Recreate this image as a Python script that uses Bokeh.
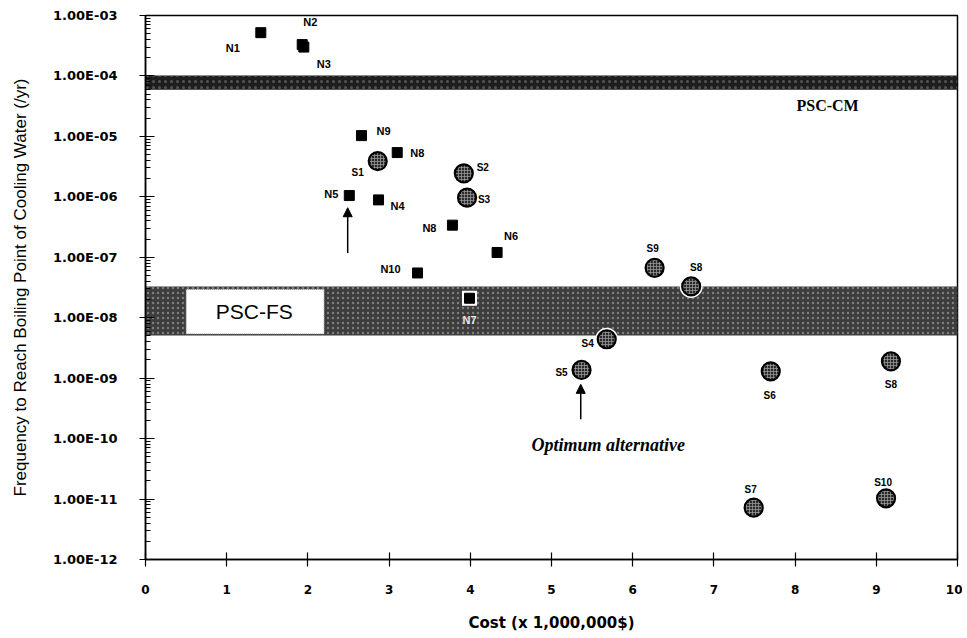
from bokeh.plotting import figure
from bokeh.models import ColumnDataSource, FixedTicker, CustomJSTickFormatter, Arrow, NormalHead, Range1d
from bokeh.core.properties import value
from bokeh.embed import file_html
from bokeh.resources import INLINE

# ---- data ----
n_names = ["N1", "N2", "N3", "N4", "N5", "N6", "N7", "N8", "N8", "N9", "N10"]
n_cost = [1.42, 1.93, 1.95, 2.87, 2.51, 4.33, 3.99, 3.78, 3.10, 2.66, 3.35]
n_freq = [5.2e-4, 3.3e-4, 3.0e-4, 8.9e-7, 1.05e-6, 1.2e-7, 2.1e-8, 3.4e-7, 5.4e-6, 1.03e-5, 5.5e-8]

s_names = ["S1", "S2", "S3", "S4", "S5", "S6", "S7", "S8", "S8", "S9", "S10"]
s_cost = [2.86, 3.92, 3.96, 5.68, 5.37, 7.70, 7.49, 6.72, 9.18, 6.27, 9.12]
s_freq = [3.9e-6, 2.45e-6, 9.7e-7, 4.4e-9, 1.37e-9, 1.3e-9, 7.2e-12, 3.3e-8, 1.9e-9, 6.7e-8, 1.03e-11]

band_names = ["PSC-CM", "PSC-FS"]
band_low = [5.9e-5, 5.1e-9]
band_high = [1.02e-4, 3.3e-8]

x_ticks = [0, 1, 2, 3, 4, 5, 6, 7, 8, 9, 10]
y_ticks = [1e-12, 1e-11, 1e-10, 1e-9, 1e-8, 1e-7, 1e-6, 1e-5, 1e-4, 1e-3]
y_tick_labels = ["1.00E-12", "1.00E-11", "1.00E-10", "1.00E-09", "1.00E-08",
                 "1.00E-07", "1.00E-06", "1.00E-05", "1.00E-04", "1.00E-03"]

# annotation anchors (data coords)
arrow_x = [2.49, 5.36]
arrow_y_start = [1.18e-7, 2.1e-10]
arrow_y_end = [6.6e-7, 7.9e-10]

# ---- label offsets (screen px) ----
n_dx = [-28, 8, 20, 19, -18, 14, 0, -23, 20, 22, -27]
n_dy = [15, -23, 17, 6, -2, -16, 22, 3, 0, -5, -4]
n_col = ["black"] * 6 + ["#e6e6e6"] + ["black"] * 4
s_dx = [-20, 19, 17, -19, -20, -1, -3, 5, 0, -2, -3]
s_dy = [11, -6, 2, 4, 3, 24, -18, -19, 23, -19, -16]

p = figure(width=962, height=634, output_backend="svg", toolbar_location=None,
           x_range=Range1d(0, 10), y_range=Range1d(1e-12, 1e-3), y_axis_type="log",
           min_border_left=145, min_border_right=5, min_border_top=15, min_border_bottom=74)
p.background_fill_color = "white"
p.border_fill_color = "white"
p.outline_line_color = "black"
p.outline_line_width = 1.5
p.xgrid.visible = False
p.ygrid.visible = False

# bands
p.quad(left=[0], right=[10], bottom=[band_low[0]], top=[band_high[0]],
       fill_color="#1e1e1e", line_color=None,
       hatch_pattern="dot", hatch_color="#8a8a8a", hatch_alpha=0.5, hatch_scale=6)
p.quad(left=[0], right=[10], bottom=[band_low[1]], top=[band_high[1]],
       fill_color="#3c3c3c", line_color=None,
       hatch_pattern="dot", hatch_color="#a8a8a8", hatch_alpha=0.6, hatch_scale=5)
# PSC-FS white label box
p.quad(left=[0.5], right=[2.2], bottom=[5.4e-9], top=[2.95e-8],
       fill_color="white", line_color="#888888", line_dash="1 1", line_width=1)
p.text(x=[1.34], y=[1.26e-8], text=[band_names[1]], text_font=value("Liberation Sans"),
       text_font_size="21px", text_align="center", text_baseline="middle", text_color="black")
p.text(x=[8.4], y=[3.2e-5], text=[band_names[0]], text_font=value("Liberation Serif"),
       text_font_style="bold", text_font_size="16px", text_align="center",
       text_baseline="middle", text_color="black")

# N squares
ns = ColumnDataSource(dict(x=n_cost, y=n_freq, t=n_names, dx=n_dx, dy=n_dy, c=n_col))
p.scatter("x", "y", source=ns, marker="square", size=15, fill_color="white", line_color=None)
p.scatter("x", "y", source=ns, marker="square", size=10, fill_color="black", line_color="black")
p.text("x", "y", text="t", source=ns, x_offset="dx", y_offset="dy", text_color="c",
       text_font=value("Liberation Sans"), text_font_style="bold", text_font_size="11px",
       text_align="center", text_baseline="middle")

# S circles
ss = ColumnDataSource(dict(x=s_cost, y=s_freq, t=s_names, dx=s_dx, dy=s_dy))
p.scatter("x", "y", source=ss, marker="circle", size=23, fill_color="white", line_color=None)
p.scatter("x", "y", source=ss, marker="circle", size=18, fill_color="#2a2a2a",
          line_color="black", line_width=2.2,
          hatch_pattern="cross", hatch_color="#a0a0a0", hatch_scale=3, hatch_weight=0.7)
p.text("x", "y", text="t", source=ss, x_offset="dx", y_offset="dy", text_color="black",
       text_font=value("Liberation Sans"), text_font_style="bold", text_font_size="10px",
       text_align="center", text_baseline="middle")

# arrows
for xa, y0, y1 in zip(arrow_x, arrow_y_start, arrow_y_end):
    p.add_layout(Arrow(end=NormalHead(size=9, fill_color="black", line_color="black"),
                       x_start=xa, y_start=y0, x_end=xa, y_end=y1,
                       line_color="black", line_width=1.5))
p.text(x=[5.7], y=[7.9e-11], text=["Optimum alternative"], text_font=value("Liberation Serif"),
       text_font_style="bold italic", text_font_size="18px", text_align="center",
       text_baseline="middle", text_color="black")

# axes
p.xaxis.ticker = FixedTicker(ticks=x_ticks)
p.xaxis.axis_label = "Cost (x 1,000,000$)"
p.xaxis.axis_label_text_font = "DejaVu Sans"
p.xaxis.axis_label_text_font_style = "bold"
p.xaxis.axis_label_text_font_size = "15px"
p.xaxis.axis_label_standoff = 17
p.xaxis.major_label_text_font = "DejaVu Sans"
p.xaxis.major_label_text_font_style = "bold"
p.xaxis.major_label_text_font_size = "12px"
p.xaxis.major_label_standoff = 18
p.xaxis.major_tick_in = 7
p.xaxis.major_tick_out = 7
p.xaxis.minor_tick_line_color = None

minor = [m * t for t in y_ticks[:-1] for m in range(2, 10)]
p.yaxis.ticker = FixedTicker(ticks=y_ticks, minor_ticks=minor)
p.yaxis.formatter = CustomJSTickFormatter(args=dict(tv=y_ticks, tl=y_tick_labels), code="""
for (let i = 0; i < tv.length; i++) {
  if (Math.abs(Math.log10(tv[i]) - Math.log10(tick)) < 1e-6) return tl[i];
}
return "";
""")
p.yaxis.axis_label = "Frequency to Reach Boiling Point of Cooling Water (/yr)"
p.yaxis.axis_label_text_font = "Liberation Sans"
p.yaxis.axis_label_text_font_style = "normal"
p.yaxis.axis_label_text_font_size = "17px"
p.yaxis.axis_label_standoff = 20
p.yaxis.major_label_text_font = "DejaVu Sans"
p.yaxis.major_label_text_font_style = "bold"
p.yaxis.major_label_text_font_size = "13px"
p.yaxis.major_label_standoff = 22
p.yaxis.major_tick_in = 9
p.yaxis.major_tick_out = 6
p.yaxis.minor_tick_in = 5
p.yaxis.minor_tick_out = 0

for ax in (p.xaxis, p.yaxis):
    ax.axis_line_color = "black"
    ax.axis_line_width = 1.5
    ax.major_tick_line_color = "black"
    ax.major_tick_line_width = 1.2
    ax.major_label_text_color = "black"
    ax.axis_label_text_color = "black"
p.yaxis.minor_tick_line_color = "black"

open("out.html", "w").write(file_html(p, INLINE))
